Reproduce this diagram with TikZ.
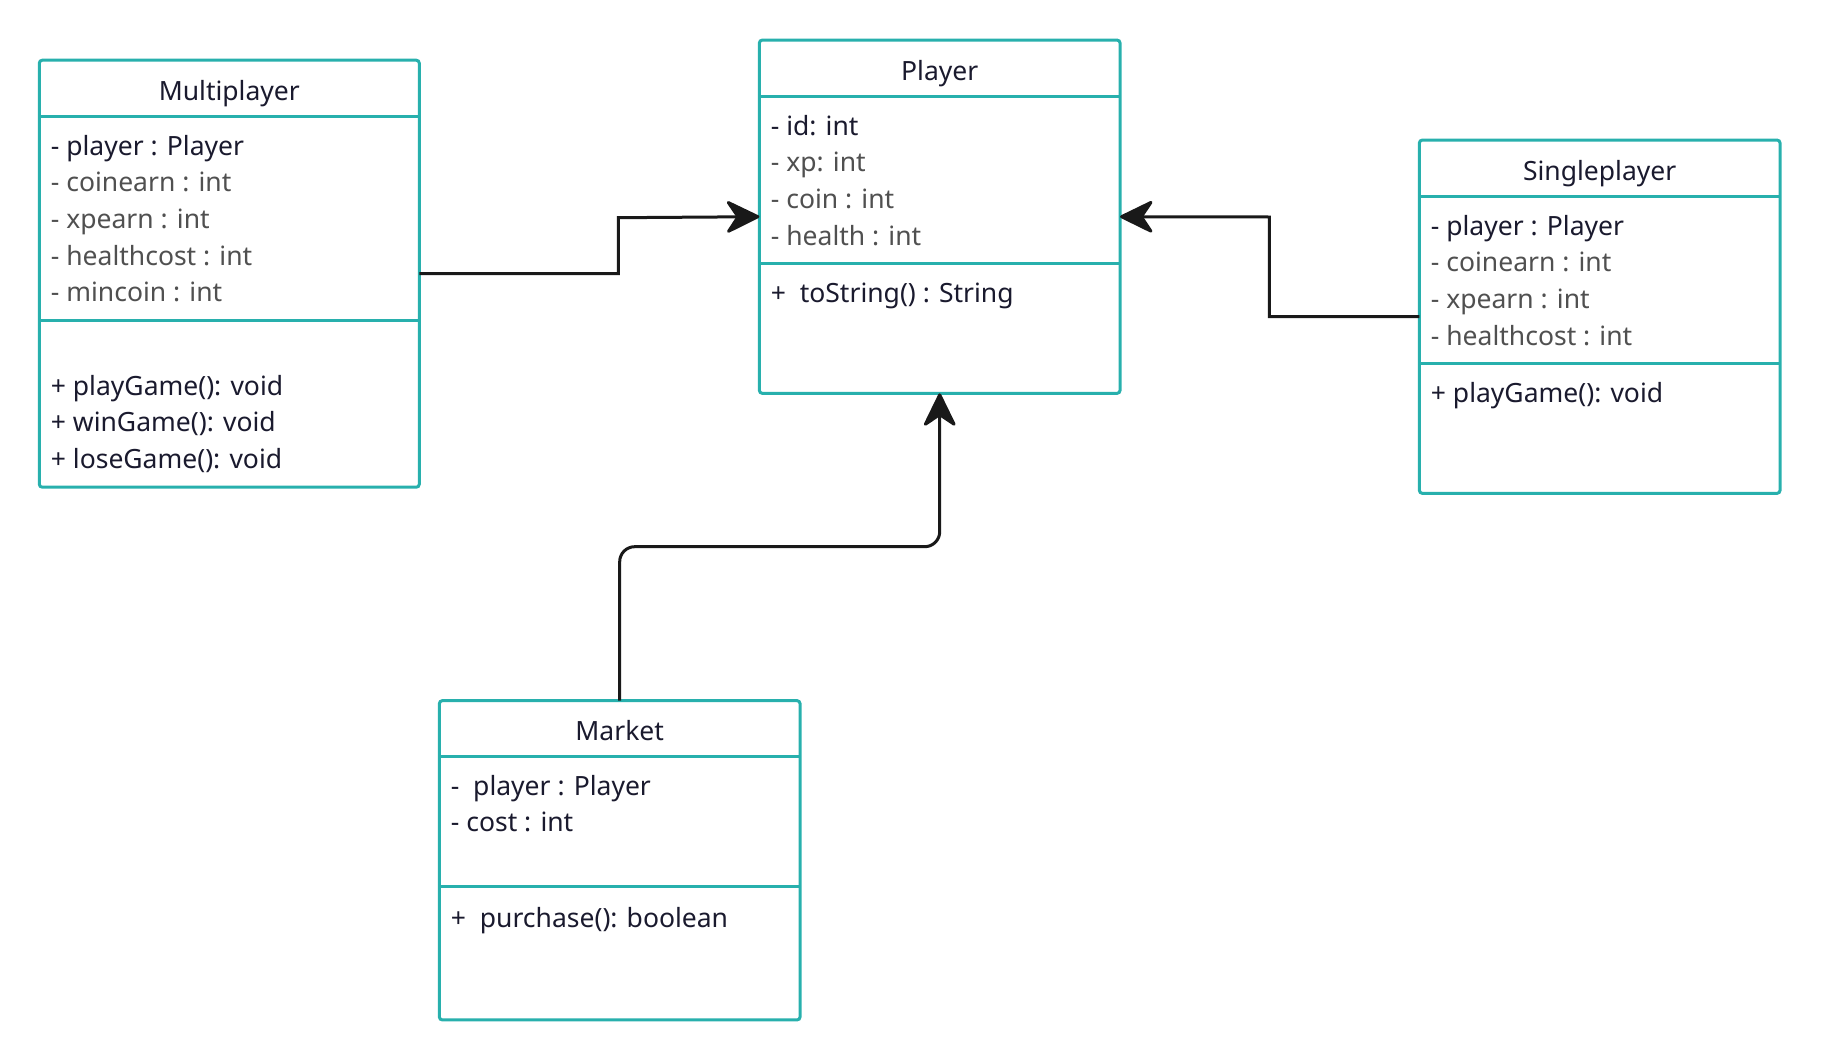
\documentclass[tikz,border=0pt]{standalone}
\usepackage{fontspec}
\setmainfont{Noto Sans}
\usetikzlibrary{arrows.meta}
\definecolor{teal1}{RGB}{40,176,173}
\definecolor{ink}{RGB}{26,26,46}
\definecolor{grey1}{RGB}{80,80,80}
\begin{document}
\begin{tikzpicture}[x=1pt,y=-1pt,
  classbox/.style={draw=teal1,line width=3pt,rounded corners=3pt,inner sep=0pt,outer sep=0pt,fill=white},
  sepline/.style={draw=teal1,line width=3pt},
  txt/.style={anchor=base west,inner sep=0pt,text=ink,font=\fontsize{26.5}{30}\selectfont},
  gtxt/.style={txt,text=grey1},
  ttl/.style={anchor=base,inner sep=0pt,text=ink,font=\fontsize{26.5}{30}\selectfont},
  conn/.style={draw=black!90,line width=3pt},
  arr/.style={conn,-{Stealth[length=37pt,width=36pt,round]}}
]
\useasboundingbox (0,0) rectangle (1821,1060);

% Multiplayer
\node[classbox,minimum width=380pt,minimum height=427pt] (mp) at (229.3,273.7) {};
\draw[sepline] (39.3,116.7) -- (419.3,116.7);
\draw[sepline] (39.3,320.7) -- (419.3,320.7);
\node[ttl] (mpt) at (229.3,100) {Multiplayer};
\node[txt] (mp1) at (50.7,155) {- player : Player};
\node[gtxt] (mp2) at (50.7,191.7) {- coinearn : int};
\node[gtxt] (mp3) at (50.7,228.3) {- xpearn : int};
\node[gtxt] (mp4) at (50.7,265) {- healthcost : int};
\node[gtxt] (mp5) at (50.7,301.7) {- mincoin : int};
\node[txt] (mp6) at (50.7,395) {+ playGame(): void};
\node[txt] (mp7) at (50.7,431.7) {+ winGame(): void};
\node[txt] (mp8) at (50.7,468.3) {+ loseGame(): void};

% Player
\node[classbox,minimum width=360.7pt,minimum height=353.3pt] (pl) at (939.7,216.7) {};
\draw[sepline] (759.3,96.7) -- (1120,96.7);
\draw[sepline] (759.3,263.3) -- (1120,263.3);
\node[ttl] (plt) at (939.7,80) {Player};
\node[txt] (pl1) at (770.7,135) {- id: int};
\node[gtxt] (pl2) at (770.7,171.7) {- xp: int};
\node[gtxt] (pl3) at (770.7,208.3) {- coin : int};
\node[gtxt] (pl4) at (770.7,245) {- health : int};
\node[txt] (pl5) at (770.7,302.7) {+\ \ toString() : String};

% Singleplayer
\node[classbox,minimum width=360.7pt,minimum height=353.3pt] (sp) at (1599.7,316.7) {};
\draw[sepline] (1419.3,196.7) -- (1780,196.7);
\draw[sepline] (1419.3,363.3) -- (1780,363.3);
\node[ttl] (spt) at (1599.7,180) {Singleplayer};
\node[txt] (sp1) at (1430.7,235) {- player : Player};
\node[gtxt] (sp2) at (1430.7,271.7) {- coinearn : int};
\node[gtxt] (sp3) at (1430.7,308.3) {- xpearn : int};
\node[gtxt] (sp4) at (1430.7,345) {- healthcost : int};
\node[txt] (sp5) at (1430.7,402.7) {+ playGame(): void};

% Market
\node[classbox,minimum width=360.7pt,minimum height=319.3pt] (mk) at (619.7,860.3) {};
\draw[sepline] (439.3,756.7) -- (800,756.7);
\draw[sepline] (439.3,886.7) -- (800,886.7);
\node[ttl] (mkt) at (619.7,740) {Market};
\node[txt] (mk1) at (450.7,795) {-\ \ player : Player};
\node[txt] (mk2) at (450.7,831.7) {- cost : int};
\node[txt] (mk3) at (450.7,927.7) {+\ \ purchase(): boolean};

% connectors
\coordinate (j1) at (618.3,217.7);
\coordinate (j2) at (1269.4,217);
\coordinate (j3) at (780,546.7);
\draw[arr] (mp.east) -| (j1) -- (pl.west);
\draw[arr] (sp.west) -| (j2) -- (pl.east);
\draw[arr,rounded corners=15pt] (mk.north) |- (j3) -| (pl.south);
\end{tikzpicture}
\end{document}
